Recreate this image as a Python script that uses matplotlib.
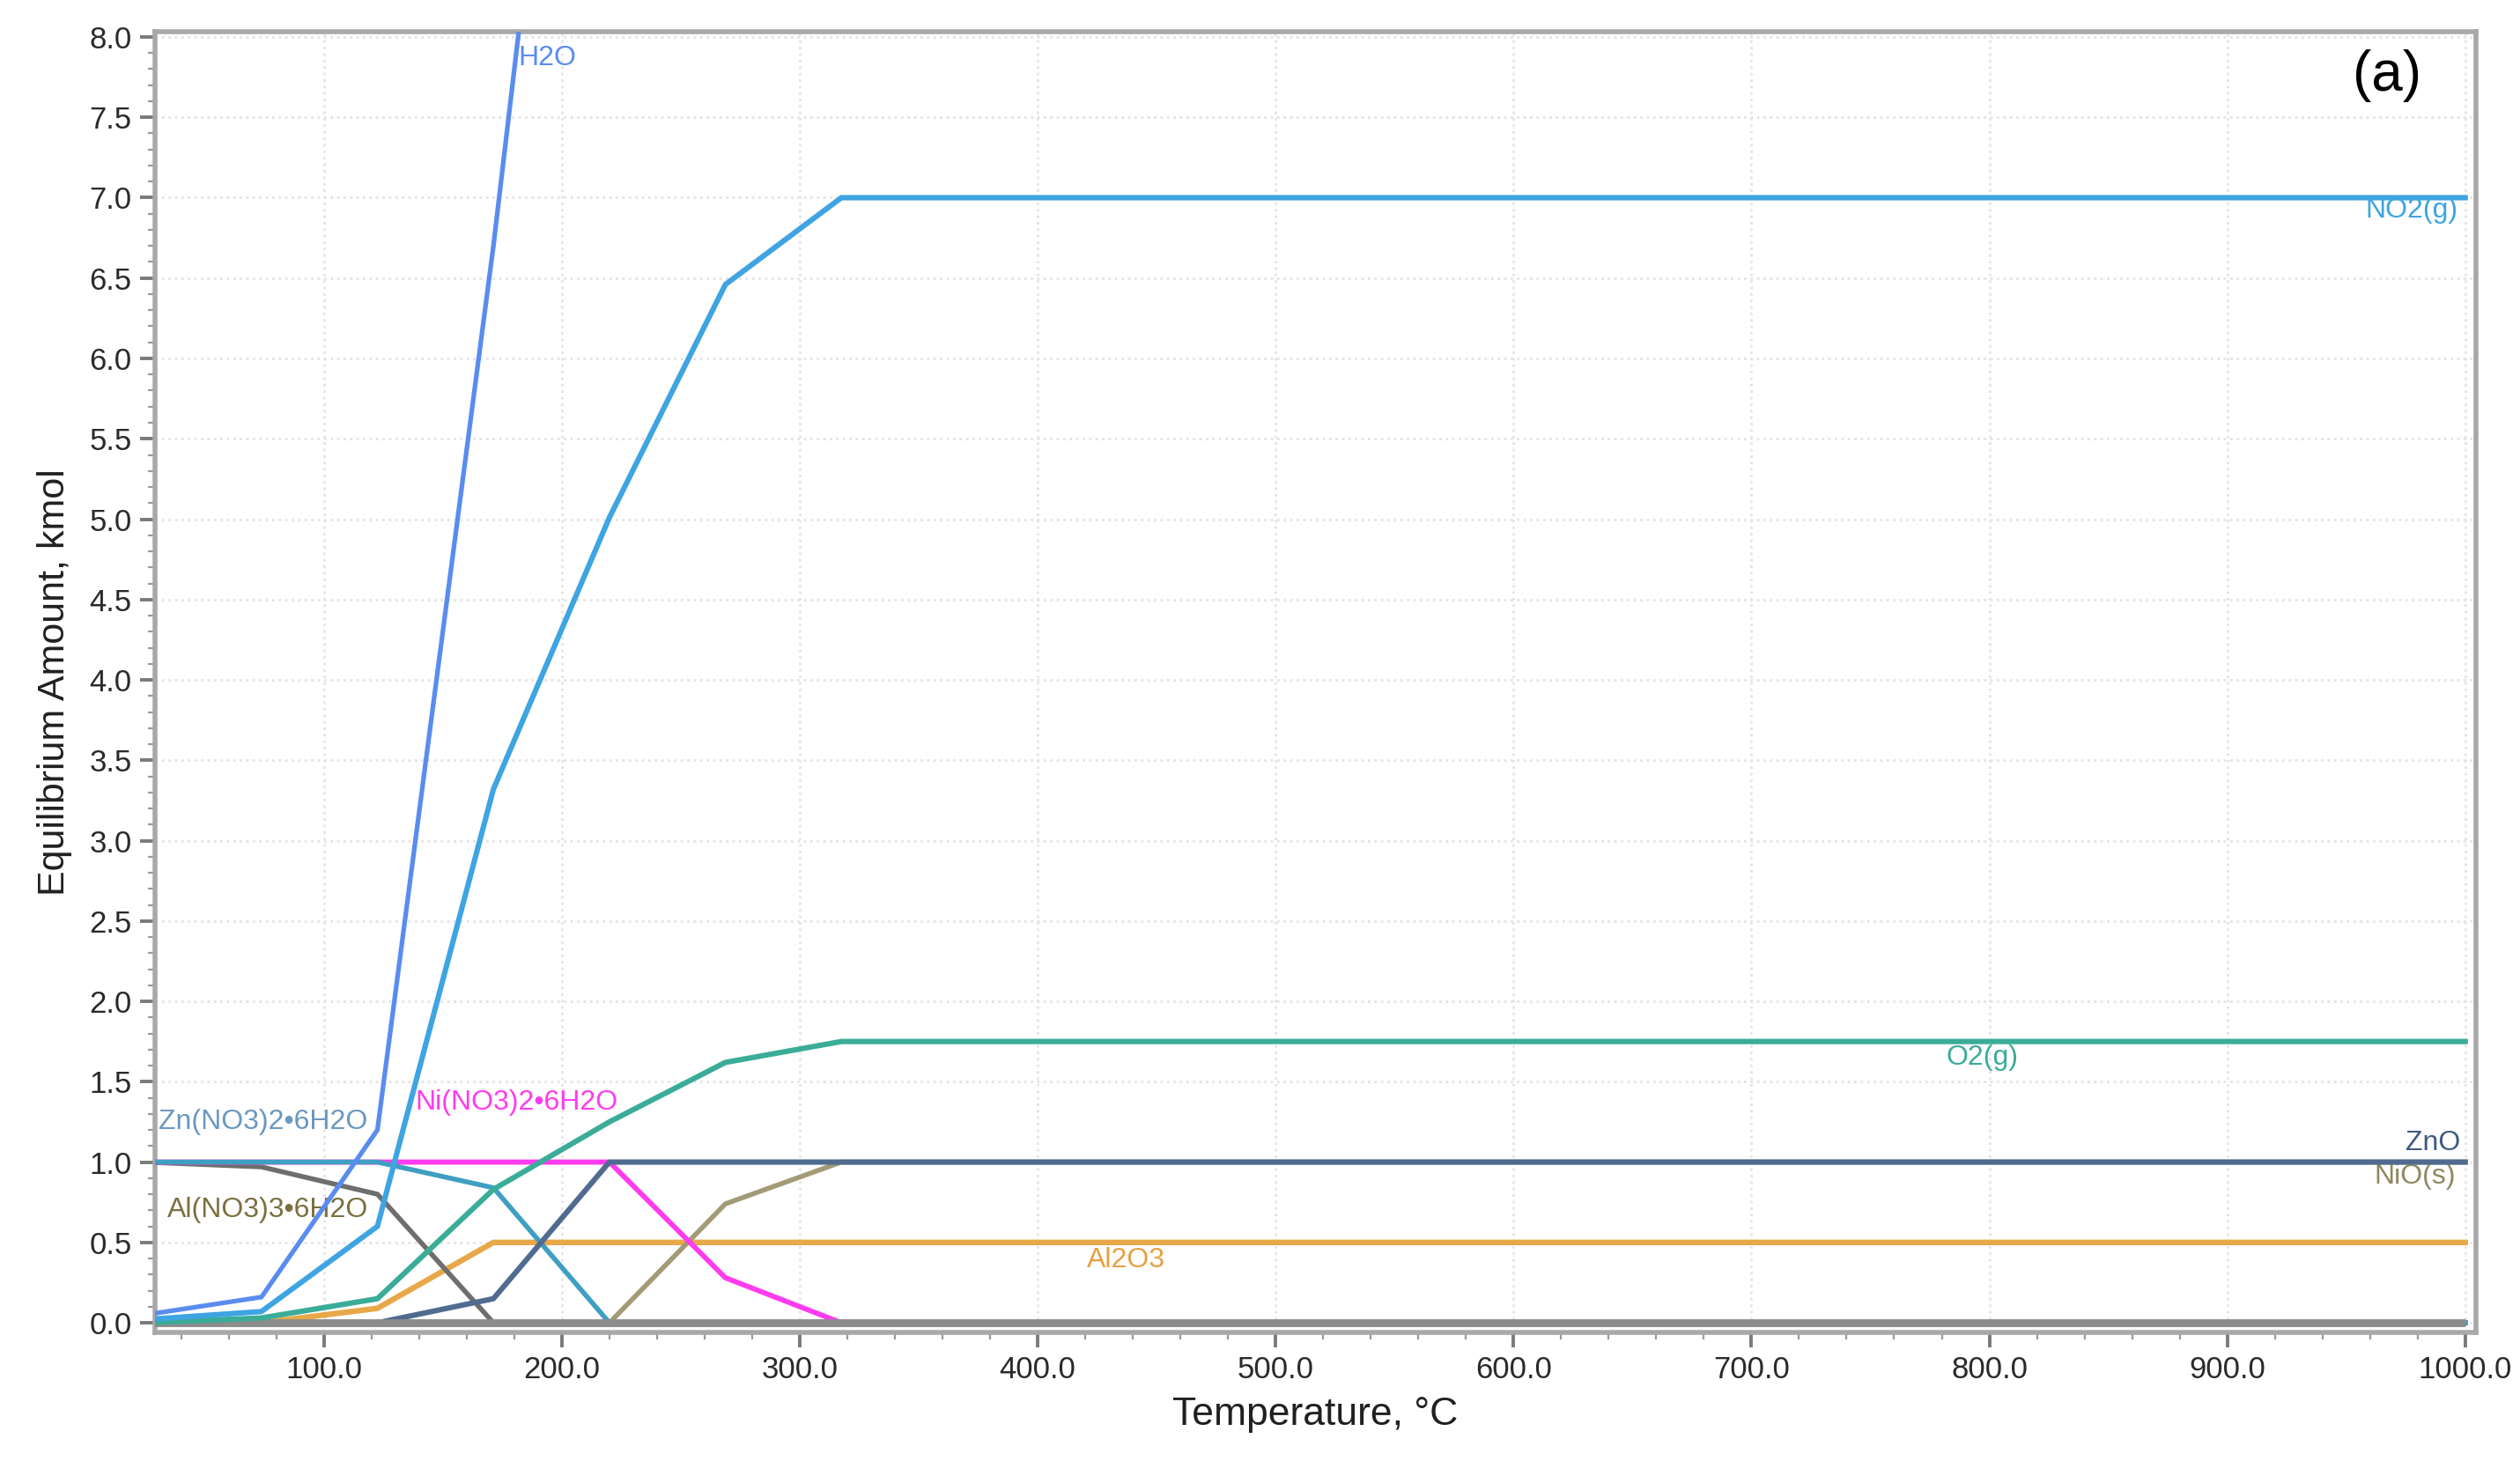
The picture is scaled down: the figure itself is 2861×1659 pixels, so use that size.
import matplotlib
matplotlib.use("Agg")
import matplotlib.pyplot as plt
from matplotlib.ticker import MultipleLocator, FormatStrFormatter

# Equilibrium composition vs temperature
TEMPS = [25.0, 73.75, 122.5, 171.25, 220.0, 268.75, 317.5, 1000.0]

H2O_T = [25.0, 73.75, 122.5, 171.25, 220.0]
H2O = [0.05, 0.16, 1.2, 6.7, 12.8]
NO2 = [0.02, 0.07, 0.6, 3.32, 5.01, 6.46, 7.0, 7.0]
O2 = [0.0, 0.03, 0.15, 0.83, 1.25, 1.62, 1.75, 1.75]
ZN_NITRATE = [1.0, 1.0, 1.0, 0.84, 0.0, 0.0, 0.0, 0.0]
AL_NITRATE = [1.0, 0.97, 0.8, 0.0, 0.0, 0.0, 0.0, 0.0]
NI_NITRATE = [1.0, 1.0, 1.0, 1.0, 1.0, 0.28, 0.0, 0.0]
ZNO = [0.0, 0.0, 0.0, 0.15, 1.0, 1.0, 1.0, 1.0]
NIO = [0.0, 0.0, 0.0, 0.0, 0.0, 0.74, 1.0, 1.0]
AL2O3 = [0.0, 0.0, 0.09, 0.5, 0.5, 0.5, 0.5, 0.5]
ZERO = [0.0, 0.0, 0.0, 0.0, 0.0, 0.0, 0.0, 0.0]

X_TICKS = [100, 200, 300, 400, 500, 600, 700, 800, 900, 1000]

plt.rcParams['font.family'] = ['Liberation Sans', 'DejaVu Sans']

fig = plt.figure(figsize=(14.305, 8.295), dpi=200)
ax = fig.add_axes([0.0615, 0.088, 0.921, 0.890])

ax.plot(TEMPS, AL2O3, color='#e8a848', lw=2.3, zorder=3)
ax.plot(TEMPS, NIO, color='#a39b76', lw=2.0, zorder=3)
ax.plot(TEMPS, AL_NITRATE, color='#6e6e6e', lw=2.0, zorder=3)
ax.plot(TEMPS, NI_NITRATE, color='#ff3bef', lw=2.1, zorder=3)
ax.plot(TEMPS, ZN_NITRATE, color='#3f9fc2', lw=2.0, zorder=4)
ax.plot(TEMPS, ZERO, color='#8c8c8c', lw=3.2, zorder=4.5, solid_capstyle='butt')
ax.plot(TEMPS, ZNO, color='#506b8f', lw=2.2, zorder=4)
ax.plot(TEMPS, O2, color='#3aac98', lw=2.2, zorder=5)
ax.plot(TEMPS, NO2, color='#3ea4e2', lw=2.2, zorder=5)
ax.plot(H2O_T, H2O, color='#5a8cf0', lw=1.9, zorder=5)

lab = dict(fontsize=11.5)
ax.text(181.7, 7.87, 'H2O', color='#5a8cf0', ha='left', va='center', **lab)
ax.text(997, 6.92, 'NO2(g)', color='#3ea4e2', ha='right', va='center', **lab)
ax.text(797, 1.65, 'O2(g)', color='#3aac98', ha='center', va='center', **lab)
ax.text(998, 1.12, 'ZnO', color='#3f5a80', ha='right', va='center', **lab)
ax.text(996, 0.91, 'NiO(s)', color='#8f8860', ha='right', va='center', **lab)
ax.text(437, 0.39, 'Al2O3', color='#e8a040', ha='center', va='center', **lab)
ax.text(30.5, 1.25, 'Zn(NO3)2\u20226H2O', color='#6a98c0', ha='left', va='center', **lab)
ax.text(138.5, 1.37, 'Ni(NO3)2\u20226H2O', color='#ff3bef', ha='left', va='center', **lab)
ax.text(34, 0.70, 'Al(NO3)3\u20226H2O', color='#7a7040', ha='left', va='center', **lab)
ax.text(967, 7.76, '(a)', color='black', ha='center', va='center', fontsize=23)

ax.set_xlim(29, 1004.5)
ax.set_ylim(-0.06, 8.03)
ax.set_xticks(X_TICKS)
ax.xaxis.set_major_formatter(FormatStrFormatter('%.1f'))
ax.xaxis.set_minor_locator(MultipleLocator(20))
ax.yaxis.set_major_locator(MultipleLocator(0.5))
ax.yaxis.set_major_formatter(FormatStrFormatter('%.1f'))
ax.yaxis.set_minor_locator(MultipleLocator(0.1))

ax.tick_params(axis='both', which='major', labelsize=12.5, length=6, width=1.4,
               color='#7a7a7a', labelcolor='#2a2a2a', direction='out')
ax.tick_params(axis='both', which='minor', length=3, width=0.8, color='#9a9a9a', direction='out')

for s in ax.spines.values():
    s.set_color('#a8a8a8')
    s.set_linewidth(2.0)

ax.grid(True, which='major', color='#e4e4e4', linestyle=':', linewidth=1.0)
ax.set_axisbelow(True)

ax.set_xlabel('Temperature, \u00b0C', fontsize=16, color='#202020', labelpad=5)
ax.set_ylabel('Equilibrium Amount, kmol', fontsize=15.5, color='#202020', labelpad=7)

fig.savefig('out.png', dpi=200, facecolor='white')
